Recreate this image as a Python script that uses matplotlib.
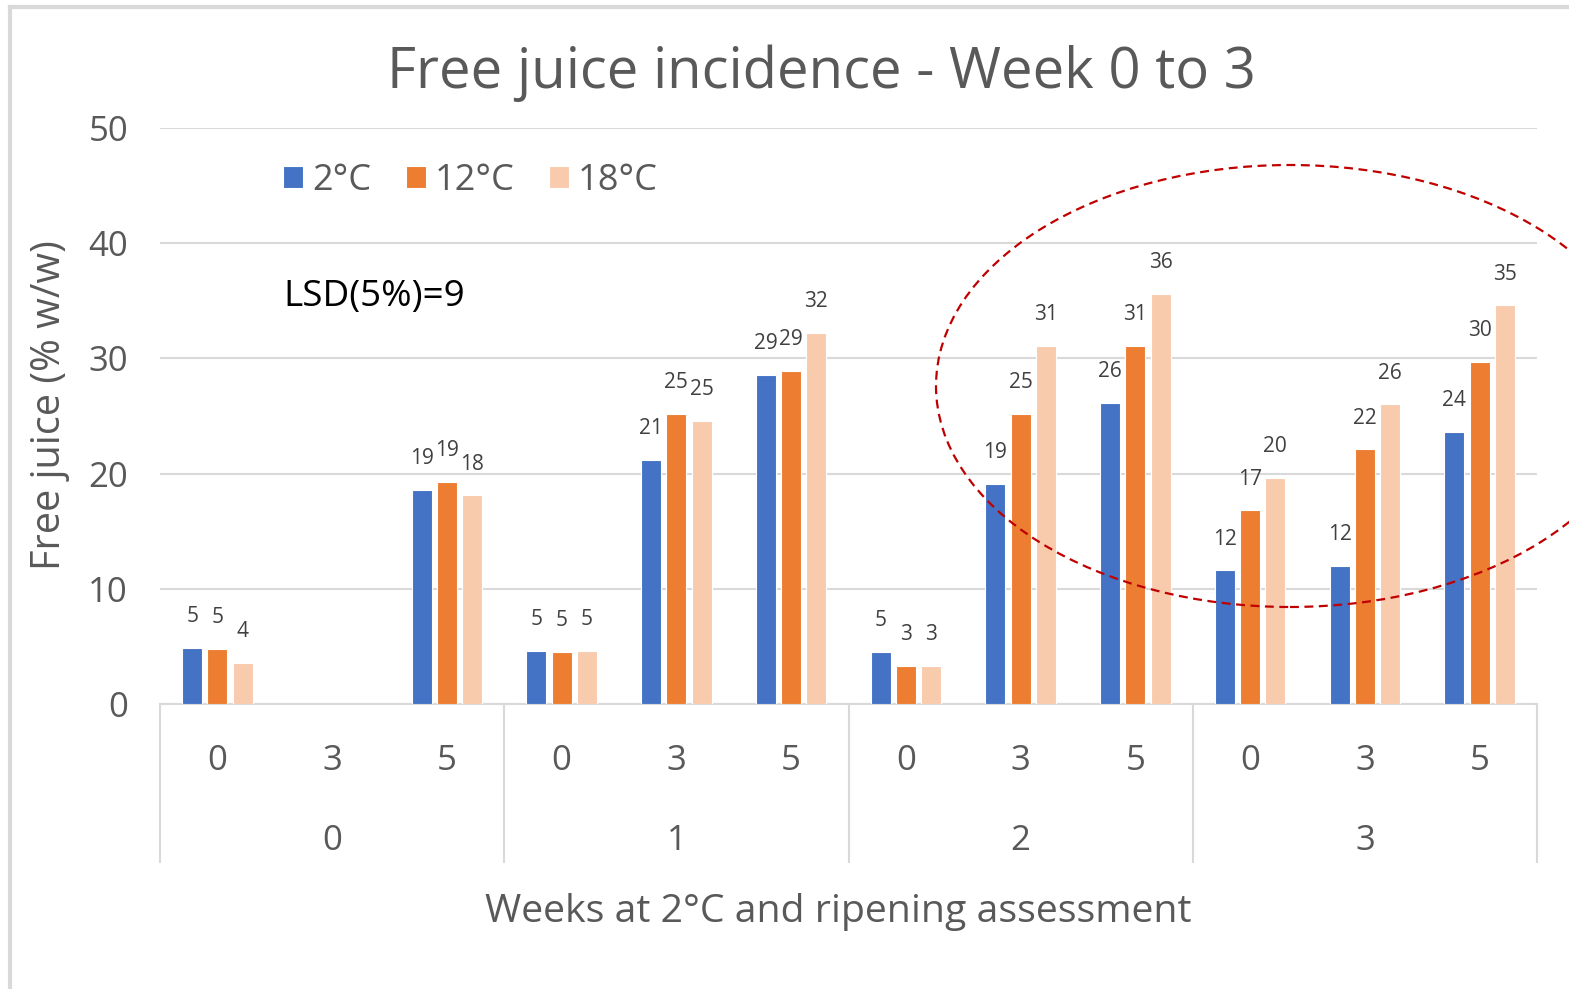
import numpy as np
import matplotlib.pyplot as plt
import matplotlib.patches as mpatches
from matplotlib.lines import Line2D
import matplotlib.transforms as mtransforms

plt.rcParams['font.family'] = ['Open Sans', 'DejaVu Sans']

# -- data -- #
weeks = ['0', '1', '2', '3']
ripening = ['0', '3', '5']
series = ['2°C', '12°C', '18°C']

t2 = [4.9, np.nan, 18.6, 4.6, 21.2, 28.6, 4.5, 19.1, 26.1, 11.6, 12.0, 23.6]
t12 = [4.8, np.nan, 19.3, 4.5, 25.2, 28.9, 3.3, 25.2, 31.1, 16.8, 22.1, 29.7]
t18 = [3.6, np.nan, 18.1, 4.6, 24.6, 32.2, 3.3, 31.1, 35.6, 19.6, 26.0, 34.6]

colors = ['#4472C4', '#ED7D31', '#F8CBAD']
grey = '#595959'
line_grey = '#D9D9D9'

W, H = 1569, 989
fig = plt.figure(figsize=(W / 100, H / 100), dpi=100)
ax = fig.add_axes([160 / W, 1 - 704 / H, (1537 - 160) / W, (704 - 128) / H])

n = len(weeks) * len(ripening)
x = np.arange(n)
width = 0.175
offset = 0.22

for i, (vals, col, name) in enumerate(zip([t2, t12, t18], colors, series)):
    xs = x + (i - 1) * offset
    ax.bar(xs, vals, width, color=col, edgecolor='white', linewidth=0.8, label=name, zorder=3)
    for xi, v in zip(xs, vals):
        if np.isnan(v):
            continue
        # round half up, like Excel
        ax.annotate(str(int(v + 0.5)), (xi, v), xytext=(0, 15), textcoords='offset points',
                    ha='center', va='bottom', fontsize=15, color='#404040')

ax.set_xlim(-0.5, n - 0.5)
ax.set_ylim(0, 50)
ax.set_yticks(range(0, 51, 10))
ax.yaxis.grid(True, color=line_grey, linewidth=1.5, zorder=0)
ax.tick_params(axis='y', length=0, labelsize=25, labelcolor=grey, pad=23)
for s in ['top', 'right', 'left']:
    ax.spines[s].set_visible(False)
ax.spines['bottom'].set_color(line_grey)
ax.spines['bottom'].set_linewidth(1.5)

# multi level category axis
ax.set_xticks(x)
ax.set_xticklabels(ripening * len(weeks))
ax.tick_params(axis='x', length=0, labelsize=25, labelcolor=grey, pad=29)

trans = mtransforms.blended_transform_factory(ax.transData, ax.transAxes)
for b in np.arange(-0.5, n, 3):
    ax.add_line(Line2D([b, b], [0, -0.275], transform=trans, color=line_grey,
                       linewidth=1.5, clip_on=False))
for j, w in enumerate(weeks):
    ax.text(j * 3 + 1, -0.237, w, transform=trans, ha='center', va='center',
            fontsize=25, color=grey)

fig.text(838 / W, 1 - 912 / H, 'Weeks at 2°C and ripening assessment',
         ha='center', va='center', fontsize=28.3, color=grey)
fig.text(50 / W, 1 - 405 / H, 'Free juice (% w/w)', rotation=90,
         ha='center', va='center', fontsize=28.5, color=grey)
fig.text(821 / W, 1 - 73 / H, 'Free juice incidence - Week 0 to 3',
         ha='center', va='center', fontsize=40.5, color=grey)

ax.legend(loc='center left', bbox_to_anchor=(0.066, 0.908), ncol=3, frameon=False,
          fontsize=26, labelcolor=grey, handlelength=0.55, handleheight=0.55,
          handletextpad=0.25, columnspacing=0.95)

ax.text(283 / W, 1 - 297 / H, 'LSD(5%)=9', transform=fig.transFigure,
        ha='left', va='center', fontsize=26.5, color='black')

# red dashed ellipse
ell = mpatches.Ellipse((1290 / W, 1 - 386 / H), 708 / W, 442 / H,
                       transform=fig.transFigure, fill=False, edgecolor='#C00000',
                       linestyle=(0, (4, 2.5)), linewidth=1.6)
fig.add_artist(ell)

# chart frame
fig.add_artist(Line2D([10 / W, 10 / W], [0, 1 - 7 / H], transform=fig.transFigure,
                      color=line_grey, linewidth=3))
fig.add_artist(Line2D([10 / W, 1], [1 - 7 / H, 1 - 7 / H], transform=fig.transFigure,
                      color=line_grey, linewidth=3))

fig.savefig('out.png', dpi=100, facecolor='white')
